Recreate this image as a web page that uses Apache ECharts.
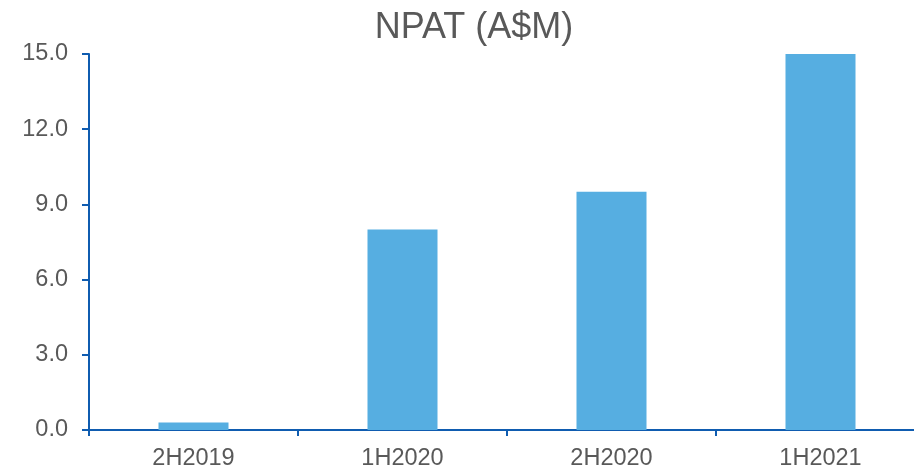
<!DOCTYPE html>
<html>
<head>
<meta charset="utf-8">
<script src="https://cdn.jsdelivr.net/npm/echarts@6/dist/echarts.min.js"></script>
<style>
html,body{margin:0;padding:0;background:#fff;overflow:hidden;width:914px;height:473px;}
#chart{width:925px;height:473px;}
</style>
</head>
<body>
<div id="chart"></div>
<script>
const categories = ['2H2019', '1H2020', '2H2020', '1H2021'];
const npatValues = [0.3, 8.0, 9.5, 15.0];
const chartTitle = 'NPAT (A$M)';

const chart = echarts.init(document.getElementById('chart'));
const axisColor = '#0F5CB0';
const textColor = '#595959';
const font = '"Liberation Sans", Arial, sans-serif';
chart.setOption({
  animation: false,
  title: {
    text: chartTitle,
    left: 469,
    top: 5,
    textAlign: 'center',
    textStyle: { fontFamily: font, fontSize: 36, fontWeight: 'normal', color: textColor }
  },
  grid: { left: 89, right: 0, top: 54, bottom: 43, containLabel: false },
  xAxis: {
    type: 'category',
    data: categories,
    axisLine: { lineStyle: { color: axisColor, width: 2 } },
    axisTick: { show: true, length: 6, lineStyle: { color: axisColor, width: 2 } },
    axisLabel: { fontFamily: font, fontSize: 23.5, color: textColor, margin: 17 },
    splitLine: { show: false }
  },
  yAxis: {
    type: 'value',
    min: 0, max: 15, interval: 3,
    axisLine: { show: true, lineStyle: { color: axisColor, width: 2 } },
    axisTick: { show: true, length: 7, lineStyle: { color: axisColor, width: 2 } },
    axisLabel: { fontFamily: font, fontSize: 23.5, color: textColor, margin: 21,
      formatter: v => v.toFixed(1) },
    splitLine: { show: false }
  },
  series: [{
    type: 'bar',
    data: npatValues,
    barWidth: '33.5%',
    itemStyle: { color: '#56AEE1' }
  }]
});
</script>
</body>
</html>
